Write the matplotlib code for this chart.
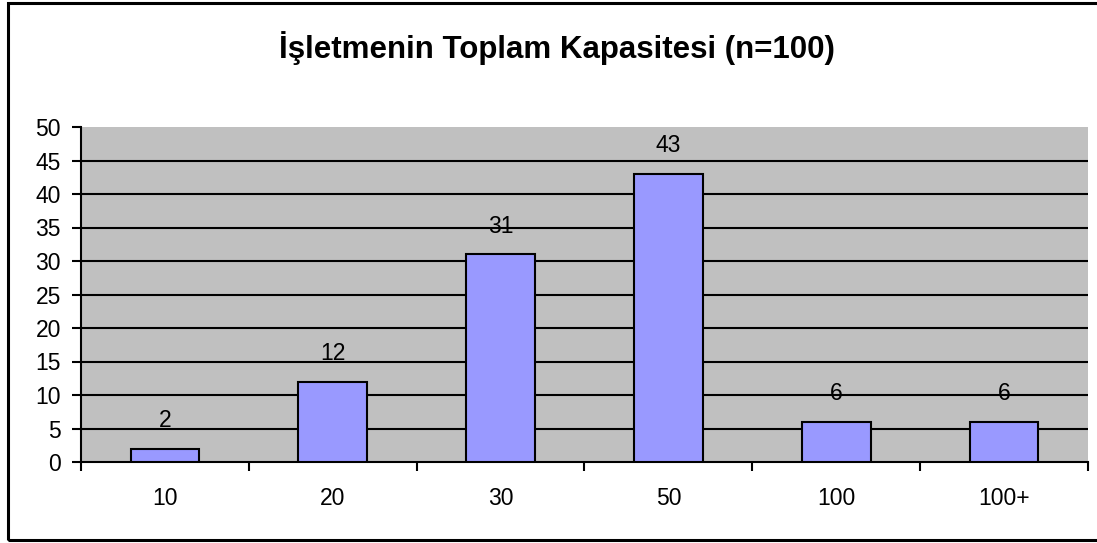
import matplotlib.pyplot as plt
from matplotlib.patches import Rectangle
import numpy as np

plt.rcParams['font.family'] = ['Liberation Sans', 'DejaVu Sans']

categories = ['10', '20', '30', '50', '100', '100+']
counts = [2, 12, 31, 43, 6, 6]
title = 'İşletmenin Toplam Kapasitesi (n=100)'

fig = plt.figure(figsize=(10.97, 5.43), dpi=100)
W, H = 1097, 543

# outer chart border (right side runs past the image edge like the original)
fig.patches.append(Rectangle((8 / W, 3 / H), 1100 / W, 537 / H, transform=fig.transFigure,
                             fill=False, edgecolor='black', linewidth=2.2))

ax = fig.add_axes([81 / W, 1 - 462 / H, (1088 - 81) / W, (462 - 127) / H])
ax.set_facecolor('#c0c0c0')

x = np.arange(len(categories))
ax.bar(x, counts, width=0.41, color='#9999ff', edgecolor='black', linewidth=1.5, zorder=3)

for xi, v in zip(x, counts):
    ax.text(xi, v + 4.2, str(v), ha='center', va='center', fontsize=16.5, zorder=4)

ax.set_xlim(-0.5, len(categories) - 0.5)
ax.set_ylim(0, 50)
ax.set_yticks(range(0, 51, 5))
for y in range(5, 50, 5):
    ax.axhline(y, color='black', linewidth=1.5, zorder=1)

ax.set_xticks(np.arange(-0.5, len(categories), 1))
ax.set_xticklabels([])
ax.set_xticks(x, minor=True)
ax.set_xticklabels(categories, minor=True, fontsize=16.5)
ax.tick_params(axis='x', which='major', direction='out', length=6.5, width=1.5)
ax.tick_params(axis='x', which='minor', length=0, pad=18)
ax.tick_params(axis='y', direction='out', length=6.5, width=1.5, labelsize=16.5, pad=8)

for s in ['top', 'right']:
    ax.spines[s].set_visible(False)
for s in ['left', 'bottom']:
    ax.spines[s].set_linewidth(1.5)

fig.text(557 / W, 1 - 48 / H, title, ha='center', va='center', fontsize=22.5, fontweight='bold')

plt.savefig('out.png', dpi=100)
